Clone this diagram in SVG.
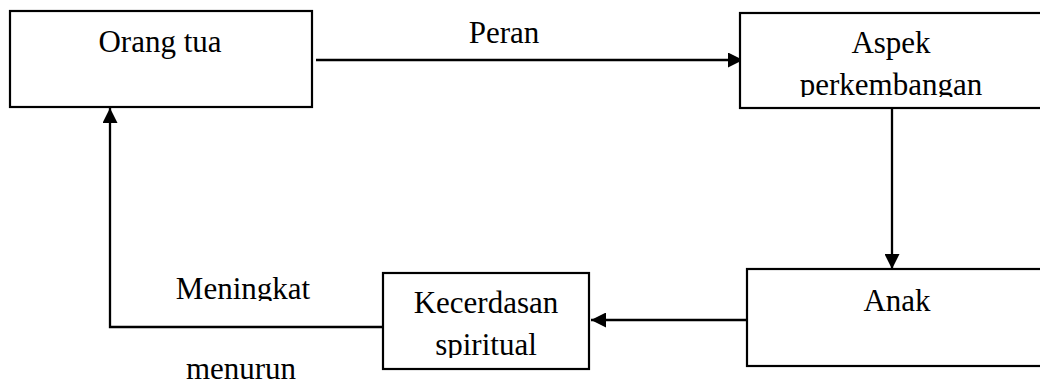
<svg xmlns="http://www.w3.org/2000/svg" width="1040" height="385" viewBox="0 0 1040 385">
<style>
.box{fill:#fff;stroke:#000;stroke-width:2.2}
.t{font-family:"Liberation Serif","Times New Roman",serif;font-size:31px;fill:#000;text-anchor:middle}
.c{fill:none;stroke:#000;stroke-width:2.3}
</style>
<defs>
<marker id="ah" markerUnits="userSpaceOnUse" markerWidth="15" markerHeight="15" refX="15" refY="7.5" orient="auto">
<path d="M0,0 L15,7.5 L0,15 z" fill="#000"/>
</marker>
<clipPath id="clipA"><rect x="740" y="0" width="300" height="97"/></clipPath>
<clipPath id="clipM"><rect x="150" y="260" width="200" height="41"/></clipPath>
<clipPath id="clipK"><rect x="383" y="273" width="206" height="85"/></clipPath>
</defs>
<g id="connectors">
<line class="c" x1="316" y1="60" x2="743" y2="60" marker-end="url(#ah)"/>
<line class="c" x1="892" y1="108" x2="892" y2="269" marker-end="url(#ah)"/>
<line class="c" x1="747" y1="320" x2="591" y2="320" marker-end="url(#ah)"/>
<polyline class="c" points="383,327 110,327 110,108" marker-end="url(#ah)"/>
<text class="t" x="504" y="43">Peran</text>
<text class="t" x="243" y="299" clip-path="url(#clipM)">Meningkat</text>
<text class="t" x="241" y="379">menurun</text>
</g>
<g id="orang-tua">
<rect class="box" x="10" y="11" width="302" height="96"/>
<text class="t" x="160" y="52">Orang tua</text>
</g>
<g id="aspek">
<rect class="box" x="740" y="13" width="310" height="95"/>
<g clip-path="url(#clipA)">
<text class="t" x="891" y="53">Aspek</text>
<text class="t" x="891" y="95">perkembangan</text>
</g>
</g>
<g id="anak">
<rect class="box" x="747" y="269" width="300" height="97"/>
<text class="t" x="897" y="311">Anak</text>
</g>
<g id="kecerdasan">
<rect class="box" x="383" y="273" width="206" height="96"/>
<g clip-path="url(#clipK)">
<text class="t" x="486" y="313">Kecerdasan</text>
<text class="t" x="486" y="355">spiritual</text>
</g>
</g>
</svg>
